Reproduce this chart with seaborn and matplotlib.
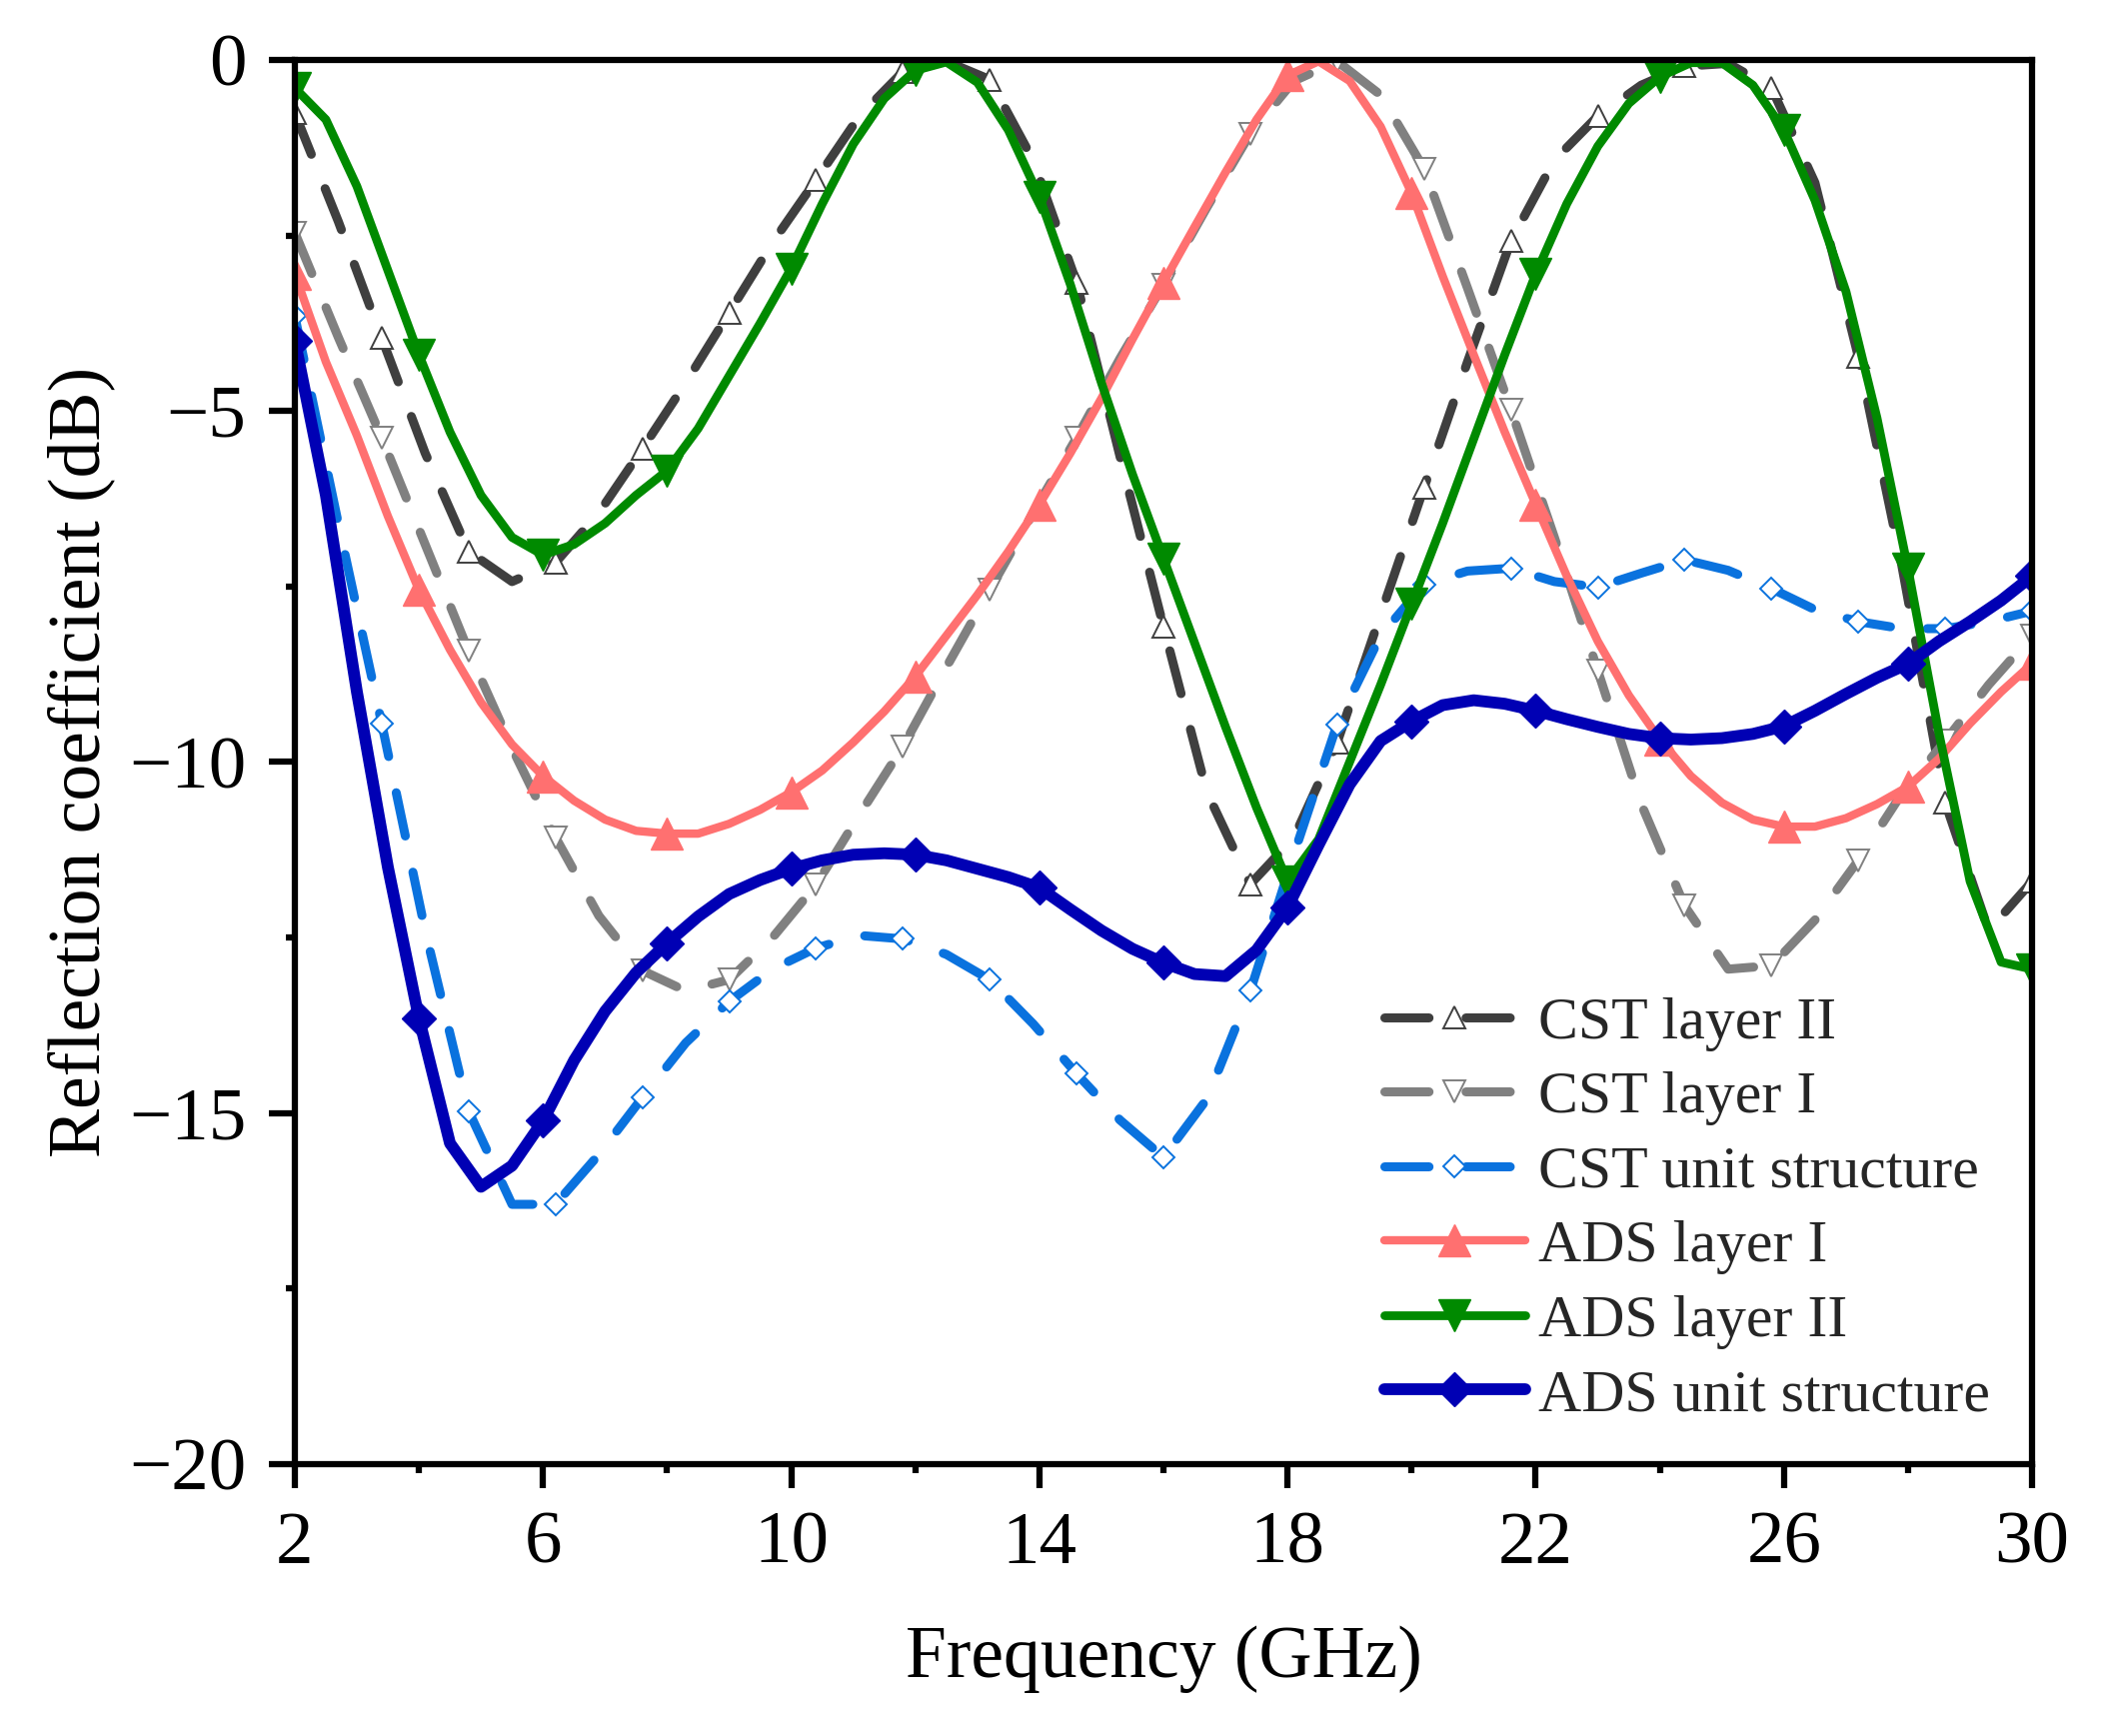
import numpy as np
import pandas as pd
import matplotlib
matplotlib.use("Agg")
import matplotlib.pyplot as plt
import seaborn as sns
from matplotlib.ticker import FixedLocator

# ---------------- data ----------------
freq_ads = [2.0, 2.5, 3.0, 3.5, 4.0, 4.5, 5.0, 5.5, 6.0, 6.5, 7.0, 7.5, 8.0, 8.5,
            9.0, 9.5, 10.0, 10.5, 11.0, 11.5, 12.0, 12.5, 13.0, 13.5, 14.0, 14.5,
            15.0, 15.5, 16.0, 16.5, 17.0, 17.5, 18.0, 18.5, 19.0, 19.5, 20.0, 20.5,
            21.0, 21.5, 22.0, 22.5, 23.0, 23.5, 24.0, 24.5, 25.0, 25.5, 26.0, 26.5,
            27.0, 27.5, 28.0, 28.5, 29.0, 29.5, 30.0]

freq_cst = [2.0, 2.7, 3.4, 4.1, 4.8, 5.5, 6.2, 6.9, 7.6, 8.3, 9.0, 9.7, 10.4, 11.1,
            11.8, 12.5, 13.2, 13.9, 14.6, 15.3, 16.0, 16.7, 17.4, 18.1, 18.8, 19.5,
            20.2, 20.9, 21.6, 22.3, 23.0, 23.7, 24.4, 25.1, 25.8, 26.5, 27.2, 27.9,
            28.6, 29.3, 30.0]

cst_layer2 = [-0.76, -2.3, -3.96, -5.6, -7.0, -7.43, -7.16, -6.45, -5.54, -4.6,
              -3.6, -2.6, -1.71, -0.8, -0.17, -0.02, -0.28, -1.43, -3.17, -5.65,
              -8.07, -10.43, -11.74, -11.08, -9.72, -7.9, -6.09, -4.3, -2.58, -1.43,
              -0.8, -0.36, -0.09, -0.05, -0.4, -1.75, -4.23, -7.2, -10.58, -12.4,
              -11.7]

cst_layer1 = [-2.46, -3.95, -5.38, -6.9, -8.42, -9.8, -11.07, -12.19, -12.97, -13.26,
              -13.1, -12.5, -11.75, -10.75, -9.78, -8.65, -7.55, -6.45, -5.38, -4.25,
              -3.2, -2.1, -1.05, -0.3, -0.02, -0.5, -1.55, -3.25, -4.98, -6.8,
              -8.7, -10.6, -12.05, -12.95, -12.9, -12.25, -11.4, -10.45, -9.7, -8.9,
              -8.2]

cst_unit = [-3.65, -6.6, -9.45, -12.4, -14.97, -16.3, -16.3, -15.59, -14.78, -14.0,
            -13.41, -12.95, -12.65, -12.47, -12.52, -12.74, -13.1, -13.73, -14.44, -15.1,
            -15.63, -14.8, -13.26, -11.32, -9.46, -8.2, -7.47, -7.28, -7.24, -7.43,
            -7.51, -7.31, -7.12, -7.27, -7.53, -7.83, -8.0, -8.1, -8.1, -8.0,
            -7.85]

ads_layer1 = [-3.05, -4.3, -5.35, -6.5, -7.55, -8.4, -9.15, -9.75, -10.2, -10.55,
              -10.82, -10.98, -11.02, -11.02, -10.88, -10.68, -10.43, -10.12, -9.72, -9.28,
              -8.78, -8.2, -7.62, -7.0, -6.33, -5.6, -4.82, -3.98, -3.17, -2.38,
              -1.6, -0.85, -0.22, -0.02, -0.3, -0.95, -1.9, -3.08, -4.2, -5.3,
              -6.33, -7.35, -8.28, -9.05, -9.68, -10.2, -10.58, -10.82, -10.92, -10.92,
              -10.8, -10.6, -10.35, -9.95, -9.45, -9.0, -8.6]

ads_layer2 = [-0.4, -0.85, -1.8, -3.0, -4.2, -5.3, -6.2, -6.8, -7.05, -6.9,
              -6.6, -6.2, -5.85, -5.25, -4.5, -3.75, -2.97, -2.05, -1.2, -0.55,
              -0.15, -0.03, -0.32, -1.0, -1.95, -3.2, -4.6, -5.9, -7.1, -8.3,
              -9.5, -10.65, -11.7, -11.1, -10.0, -8.9, -7.75, -6.6, -5.4, -4.2,
              -3.05, -2.05, -1.23, -0.62, -0.24, -0.04, -0.04, -0.36, -1.0, -2.0,
              -3.3, -5.1, -7.25, -9.6, -11.7, -12.85, -12.95]

ads_unit = [-4.0, -6.2, -9.0, -11.5, -13.65, -15.43, -16.05, -15.75, -15.11, -14.25,
            -13.55, -13.0, -12.58, -12.2, -11.88, -11.68, -11.52, -11.4, -11.32, -11.3,
            -11.32, -11.4, -11.52, -11.64, -11.79, -12.1, -12.4, -12.66, -12.86, -13.02,
            -13.05, -12.68, -12.07, -11.18, -10.32, -9.7, -9.42, -9.19, -9.12, -9.17,
            -9.27, -9.39, -9.5, -9.6, -9.66, -9.68, -9.66, -9.6, -9.49, -9.27,
            -9.03, -8.8, -8.6, -8.28, -8.0, -7.7, -7.35]

series_labels = ["CST layer II", "CST layer I", "CST unit structure",
                 "ADS layer I", "ADS layer II", "ADS unit structure"]
x_ticks = [2, 6, 10, 14, 18, 22, 26, 30]
x_minor = [4, 8, 12, 16, 20, 24, 28]
y_ticks = [0, -5, -10, -15, -20]
y_minor = [-2.5, -7.5, -12.5, -17.5]

# ---------------- style ----------------
sns.set_theme(style="ticks")
plt.rcParams['font.family'] = ['Liberation Serif', 'DejaVu Serif']
plt.rcParams['axes.unicode_minus'] = True

fig, ax = plt.subplots(figsize=(21.04, 17.37), dpi=100)
fig.subplots_adjust(left=0.1402, right=0.9663, top=0.9655, bottom=0.1566)

cst_specs = [
    (cst_layer2, "#3f3f3f", "^", 16, series_labels[0]),
    (cst_layer1, "#808080", "v", 16, series_labels[1]),
    (cst_unit, "#0a72de", "D", 11.5, series_labels[2]),
]
for vals, col, mk, ms, lab in cst_specs:
    sns.lineplot(x=freq_cst, y=vals, ax=ax, color=col, linewidth=6.5,
                 linestyle=(0, (4.9, 4.1)), dash_capstyle="round",
                 marker=mk, markevery=2, markersize=ms,
                 markerfacecolor="white", markeredgecolor=col,
                 markeredgewidth=1.4, label=lab, errorbar=None, sort=False)

ads_specs = [
    (ads_layer1, "#ff7070", "^", 23, 6.0, series_labels[3]),
    (ads_layer2, "#008a00", "v", 23, 6.3, series_labels[4]),
    (ads_unit, "#0000b4", "D", 17.5, 8.5, series_labels[5]),
]
for vals, col, mk, ms, lw, lab in ads_specs:
    sns.lineplot(x=freq_ads, y=vals, ax=ax, color=col, linewidth=lw,
                 linestyle="-", marker=mk, markevery=4, markersize=ms,
                 markerfacecolor=col, markeredgecolor=col, markeredgewidth=1.0,
                 label=lab, errorbar=None, sort=False)

ax.set_xlim(2, 30)
ax.set_ylim(-20, 0)
ax.xaxis.set_major_locator(FixedLocator(x_ticks))
ax.xaxis.set_minor_locator(FixedLocator(x_minor))
ax.yaxis.set_major_locator(FixedLocator(y_ticks))
ax.yaxis.set_minor_locator(FixedLocator(y_minor))
ax.set_xticklabels([str(t) for t in x_ticks])
ax.set_yticklabels(["0", "\u22125", "\u221210", "\u221215", "\u221220"])

for sp in ax.spines.values():
    sp.set_visible(True)
    sp.set_linewidth(4.5)
    sp.set_color("black")

ax.tick_params(axis="both", which="major", direction="out", width=4.5,
               labelsize=54, color="black", labelcolor="black",
               top=False, right=False)
ax.tick_params(axis="both", which="minor", direction="out", length=6.5, width=4.5,
               color="black", top=False, right=False)
ax.tick_params(axis="x", which="major", length=17, pad=17)
ax.tick_params(axis="y", which="major", length=19, pad=16)

ax.set_xlabel("Frequency (GHz)", fontsize=53, labelpad=34, color="black")
ax.set_ylabel("Reflection coefficient (dB)", fontsize=53, labelpad=10, color="black")
ax.grid(False)

handles, labels = ax.get_legend_handles_labels()
ax.legend(handles, labels, loc="lower left", bbox_to_anchor=(0.627, 0.029),
          frameon=False, fontsize=43, handlelength=2.36, handletextpad=0.23,
          labelspacing=0.33, borderpad=0, borderaxespad=0, numpoints=1)

fig.savefig("out.png", dpi=100, facecolor="white")
